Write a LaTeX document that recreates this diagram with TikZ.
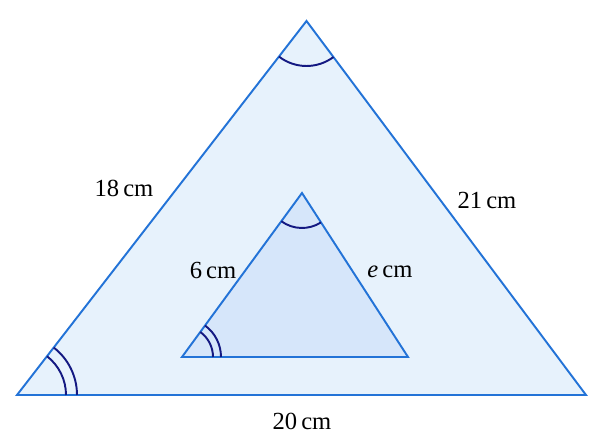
\documentclass[tikz,border=0pt]{standalone}
\usepackage{fontspec}
\setmainfont{Liberation Serif}
\usetikzlibrary{angles}
\definecolor{trline}{RGB}{35,115,215}
\definecolor{trfill}{RGB}{231,242,252}
\definecolor{trinner}{RGB}{214,230,250}
\definecolor{arcnavy}{RGB}{20,25,130}
\tikzset{
  side/.style={draw=trline, line width=1.1pt, line join=miter},
  angmark/.style={draw=arcnavy, line width=1.1pt},
  lbl/.style={font=\fontsize{14}{16}\selectfont, text=black, inner sep=1pt}
}

\begin{document}
\begin{tikzpicture}
\useasboundingbox (0,0) rectangle (12.08,8.84);
% outer triangle
\coordinate (A) at (0.34,0.94);
\coordinate (B) at (11.72,0.94);
\coordinate (C) at (6.13,8.42);
\filldraw[side, fill=trfill] (A) -- (B) -- (C) -- cycle;
% inner triangle
\coordinate (D) at (3.64,1.70);
\coordinate (E) at (8.16,1.70);
\coordinate (F) at (6.04,4.98);
\filldraw[side, fill=trinner] (D) -- (E) -- (F) -- cycle;
% angle marks
\pic[angmark, angle radius=0.90cm] {angle=A--C--B};
\pic[angmark, angle radius=0.98cm] {angle=B--A--C};
\pic[angmark, angle radius=1.20cm] {angle=B--A--C};
\pic[angmark, angle radius=0.70cm] {angle=D--F--E};
\pic[angmark, angle radius=0.62cm] {angle=E--D--F};
\pic[angmark, angle radius=0.78cm] {angle=E--D--F};
% labels
\node[lbl] (l18) at (2.48,5.08) {18\,cm};
\node[lbl] (l21) at (9.74,4.84) {21\,cm};
\node[lbl] (l20) at (6.04,0.42) {20\,cm};
\node[lbl] (l6) at (4.26,3.44) {6\,cm};
\node[lbl] (le) at (7.80,3.40) {\textit{e}\,cm};
\end{tikzpicture}
\end{document}
